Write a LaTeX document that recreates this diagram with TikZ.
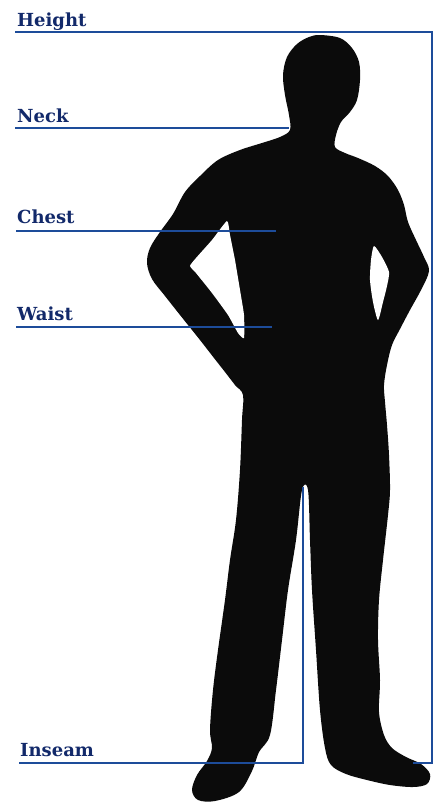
\documentclass[tikz,border=0pt]{standalone}
\usepackage{fontspec}
\setmainfont{DejaVu Serif}
\definecolor{measure}{HTML}{1D4C9A}
\definecolor{labelink}{HTML}{12296A}
\definecolor{figure}{HTML}{0B0B0B}
\begin{document}
\begin{tikzpicture}[x=1pt,y=-1pt,
  mline/.style={draw=measure, line width=2.8pt, line join=miter},
  lbl/.style={anchor=base west, inner sep=0pt, text=labelink,
              font=\bfseries\fontsize{18}{21}\selectfont}]
\useasboundingbox (0,0) rectangle (435,804);
\fill[white] (0,0) rectangle (435,804);

% silhouette of a standing man, hands on hips
\fill[figure] plot[smooth cycle, tension=0.55] coordinates {
 (320,35) (340,38) (352,48) (359,62) (360,80) (357,100) (350,112) (341,122)
 (336,135) (335,147) (345,153) (358,158) (375,166) (388,176) (398,190)
 (404,205) (408,222) (416,240) (424,257) (429,271)
 (421,290) (410,310) (400,329) (392,345) (387,365) (384,385) (385,402)
 (387,425) (389,455) (390,490) (388,515) (383,560) (379,600) (378,640)
 (380,680) (379,712) (384,735) (392,748) (406,757) (421,764) (430,774)
 (427,784) (413,787) (390,785) (367,780) (346,774) (331,765) (325,748)
 (320,710) (316,650) (312,590) (310,540) (308,490)
 (302,490) (296,540) (288,590) (282,640) (276,690) (270,735) (259,752)
 (252,771) (239,792) (215,801) (198,800) (192,790) (197,775) (207,761)
 (212,748) (210,730) (213,690) (218,650) (225,600) (230,560) (236,520)
 (240,470) (242,420) (243,395)
 (235,385) (225,372) (214,358) (200,340) (184,320) (165,296) (152,279)
 (147,263) (150,248) (160,232) (173,214)
 (185,192) (200,176) (218,160) (240,150) (262,143) (280,137) (290,130)
 (289,115) (285,95) (283,75) (287,57) (297,44) (309,37)
};
% gaps between the arms and the torso
\fill[white] plot[smooth cycle, tension=0.3] coordinates {
 (227,221) (212,240) (196,258) (190,266) (196,273) (212,293) (228,315)
 (238,333) (244,338) (244,315) (240,290) (235,260) (230,235)};
\fill[white] plot[smooth cycle, tension=0.4] coordinates {
 (374,246) (382,257) (389,272) (387,286) (383,302) (378,320) (373,302)
 (370,280) (371,260)};

% labels
\node[lbl] (height) at (17,26) {Height};
\node[lbl] (neck)   at (17,122) {Neck};
\node[lbl] (chest)  at (17,223) {Chest};
\node[lbl] (waist)  at (17,320) {Waist};
\node[lbl] (inseam) at (20,756) {Inseam};

% measuring lines
\coordinate (hA) at (15,32);
\coordinate (hB) at (432,32);
\coordinate (hC) at (432,763);
\coordinate (hD) at (413,763);
\coordinate (nA) at (15,128);
\coordinate (nB) at (289,128);
\coordinate (cA) at (16,231);
\coordinate (cB) at (276,231);
\coordinate (wA) at (16,327);
\coordinate (wB) at (272,327);
\coordinate (iA) at (19,763);
\coordinate (iB) at (303,763);
\coordinate (iC) at (303,487);

\draw[mline] (hA) -- (hB) -- (hC) -- (hD);
\draw[mline] (nA) -- (nB);
\draw[mline] (cA) -- (cB);
\draw[mline] (wA) -- (wB);
\draw[mline] (iA) -- (iB) -- (iC);
\end{tikzpicture}
\end{document}
